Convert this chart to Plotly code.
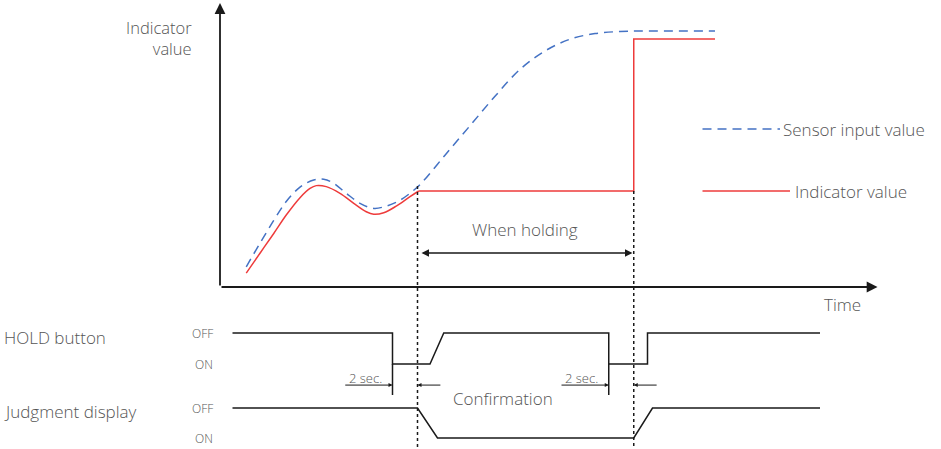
import plotly.graph_objects as go

# time in seconds, indicator values in % of full scale
sensor_t = [2.1, 3.2, 4.3, 5.3, 6.4, 7.5, 8.3, 9.1, 10.1, 11.2, 12.3, 13.3, 14.4,
            15.5, 16.1, 18.0, 20.0, 22.0, 24.0, 26.0, 28.0, 30.0, 32.0, 34.0, 39.6]
sensor_v = [7.9, 17.1, 26.0, 33.4, 39.0, 41.8, 42.1, 40.5, 36.6, 32.7, 30.7, 31.6,
            33.9, 37.8, 40.5, 51.5, 63.0, 74.5, 85.0, 92.2, 96.8, 99.0, 99.8, 100, 100]

indicator_rise_t = [2.1, 3.2, 4.3, 5.3, 6.4, 7.2, 7.7, 8.5, 9.6, 10.7, 11.7,
                    12.3, 13.1, 14.1, 15.2, 15.9]
indicator_rise_v = [5.4, 13.2, 20.9, 28.1, 34.9, 38.5, 39.6, 39.2, 36.6, 32.7, 29.4,
                    28.4, 29.0, 31.6, 35.3, 37.5]
indicator_hold_t = [15.9, 33.1, 33.1, 39.6]
indicator_hold_v = [37.5, 37.5, 96.9, 96.9]

# 1 = OFF, 0 = ON
hold_btn_t = [1.0, 13.8, 13.8, 16.8, 17.9, 31.1, 31.1, 34.2, 34.2, 48.0]
hold_btn_s = [1, 1, 0, 0, 1, 1, 0, 0, 1, 1]
judge_t = [1.0, 15.8, 17.4, 33.1, 34.6, 48.0]
judge_s = [1, 1, 0, 0, 1, 1]

press_times = [13.8, 31.1]
release_times = [15.8, 33.1]

W, H = 941, 449
FONT = "Open Sans"
TXT = "#555555"
INK = "#1a1a1a"
BLUE = "#4472C4"
RED = "#EE3B3B"


def y_range(px_a, val_a, px_b, val_b):
    # axis range so that val_a sits at pixel row px_a and val_b at px_b
    ppu = (px_a - px_b) / (val_b - val_a)
    return [val_a - (H - px_a) / ppu, val_a + px_a / ppu]


x_rng = [-220 / 12.5, (W - 220) / 12.5]
y1_rng = y_range(287, 0, 31, 100)
y2_rng = y_range(364, 0, 333, 1)
y3_rng = y_range(438, 0, 408, 1)

fig = go.Figure()

fig.add_trace(go.Scatter(x=sensor_t, y=sensor_v, mode="lines",
                         line=dict(color=BLUE, width=1.5, dash="9px,6px",
                                   shape="spline", smoothing=1)))
fig.add_trace(go.Scatter(x=indicator_rise_t, y=indicator_rise_v, mode="lines",
                         line=dict(color=RED, width=1.5, shape="spline", smoothing=1)))
fig.add_trace(go.Scatter(x=indicator_hold_t, y=indicator_hold_v, mode="lines",
                         line=dict(color=RED, width=1.5)))

# legend samples
fig.add_trace(go.Scatter(x=[38.6, 44.8], y=[61.7, 61.7], mode="lines",
                         line=dict(color=BLUE, width=1.5, dash="9px,6px")))
fig.add_trace(go.Scatter(x=[38.6, 45.6], y=[37.5, 37.5], mode="lines",
                         line=dict(color=RED, width=1.5)))

fig.add_trace(go.Scatter(x=hold_btn_t, y=hold_btn_s, yaxis="y2", mode="lines",
                         line=dict(color=INK, width=1.5)))
fig.add_trace(go.Scatter(x=judge_t, y=judge_s, yaxis="y3", mode="lines",
                         line=dict(color=INK, width=1.5)))

# dotted markers at hold start / release
for t, v in zip(release_times, [39.5, 37.5]):
    fig.add_shape(type="line", x0=t, x1=t, y0=v, y1=y1_rng[0], xref="x", yref="y",
                  line=dict(color=INK, width=1.5, dash="dot"))

# extension lines for the 2 sec. dimension
for t in press_times:
    fig.add_shape(type="line", x0=t, x1=t, y0=0, y1=-1.0, xref="x", yref="y2",
                  line=dict(color=INK, width=1.5))

anns = []
# axes with arrow heads
anns.append(dict(x=0, y=110.9, ax=0, ay=0, xref="x", yref="y", axref="x", ayref="y",
                 showarrow=True, arrowhead=2, arrowsize=1.2, arrowwidth=1.8,
                 arrowcolor=INK, text=""))
anns.append(dict(x=52.6, y=0, ax=0, ay=0, xref="x", yref="y", axref="x", ayref="y",
                 showarrow=True, arrowhead=2, arrowsize=1.2, arrowwidth=1.8,
                 arrowcolor=INK, text=""))
# when holding span
anns.append(dict(x=33.0, y=13.3, ax=16.0, ay=13.3, xref="x", yref="y", axref="x",
                 ayref="y", showarrow=True, arrowhead=2, arrowside="end+start",
                 arrowsize=1, arrowwidth=1.5, arrowcolor=INK, text=""))
# 2 sec. arrows
for p, r in zip(press_times, release_times):
    anns.append(dict(x=p, y=-0.68, ax=p - 3.9, ay=-0.68, xref="x", yref="y2",
                     axref="x", ayref="y2", showarrow=True, arrowhead=2,
                     arrowsize=0.8, arrowwidth=1, arrowcolor=INK, text=""))
    anns.append(dict(x=r, y=-0.68, ax=r + 1.95, ay=-0.68, xref="x", yref="y2",
                     axref="x", ayref="y2", showarrow=True, arrowhead=2,
                     arrowsize=0.8, arrowwidth=1, arrowcolor=INK, text=""))
    anns.append(dict(x=p - 2.2, y=-0.45, xref="x", yref="y2", showarrow=False,
                     text="2 sec.", font=dict(size=13, color=TXT)))


def label(x, y, text, yref="y", size=17, xanchor="center"):
    anns.append(dict(x=x, y=y, xref="x", yref=yref, text=text, showarrow=False,
                     xanchor=xanchor, yanchor="middle", align="right",
                     font=dict(size=size, color=TXT)))


label(-2.1, 97.3, "Indicator<br>value", size=16.5, xanchor="right")
label(49.8, -7.0, "Time")
label(24.4, 22.3, "When holding")
label(22.6, -1.1, "Confirmation", yref="y2")
label(44.9, 61.7, "Sensor input value", xanchor="left")
label(45.8, 37.5, "Indicator value", xanchor="left")
label(-17.45, 0.84, "HOLD button", yref="y2", xanchor="left")
label(-17.45, 0.87, "Judgment display", yref="y3", xanchor="left")
label(-0.4, 1, "OFF", yref="y2", size=12, xanchor="right")
label(-0.4, 0, "ON", yref="y2", size=12, xanchor="right")
label(-0.4, 1, "OFF", yref="y3", size=12, xanchor="right")
label(-0.4, 0, "ON", yref="y3", size=12, xanchor="right")

hidden = dict(visible=False, showgrid=False, zeroline=False, fixedrange=True)
fig.update_layout(
    width=W, height=H,
    margin=dict(l=0, r=0, t=0, b=0),
    paper_bgcolor="white", plot_bgcolor="white",
    showlegend=False,
    font=dict(family=FONT, color=TXT, weight=300),
    annotations=anns,
    xaxis=dict(range=x_rng, **hidden),
    yaxis=dict(range=y1_rng, **hidden),
    yaxis2=dict(range=y2_rng, overlaying="y", **hidden),
    yaxis3=dict(range=y3_rng, overlaying="y", **hidden),
)

fig.write_html("out.html", config={"displayModeBar": False},
               post_script="document.body.style.margin='0';")
